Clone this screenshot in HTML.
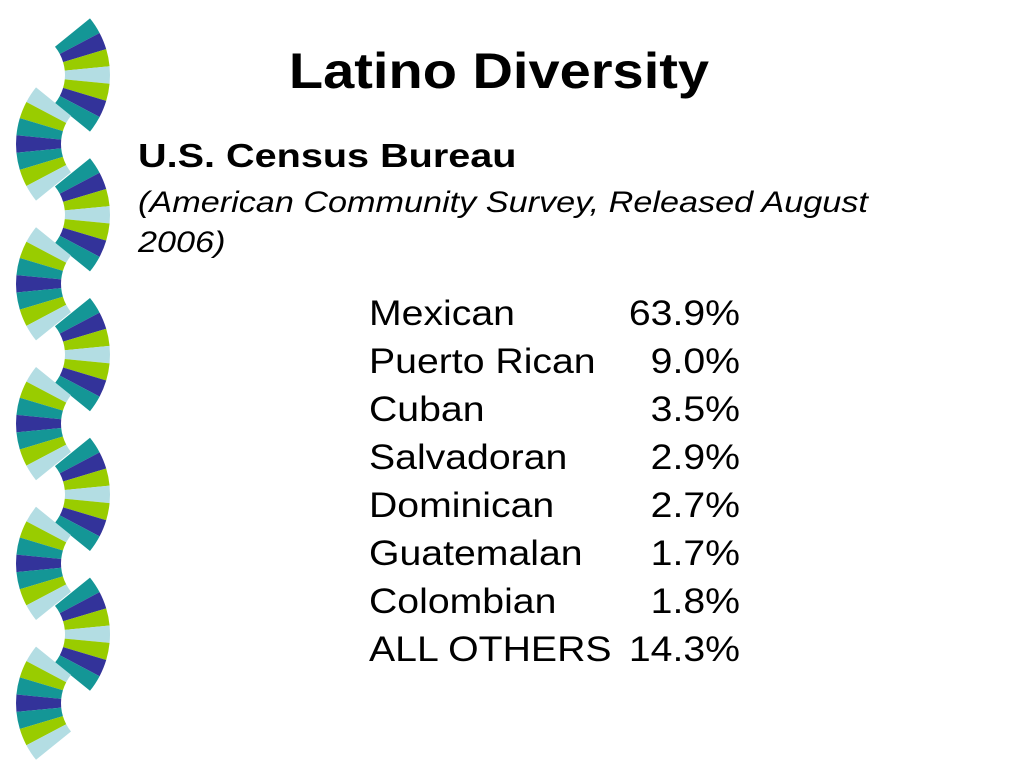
<!DOCTYPE html>
<html><head><meta charset="utf-8"><style>
body{margin:0;width:1024px;height:768px;background:#fff;overflow:hidden;position:relative;font-family:"Liberation Sans",Arial,sans-serif;}
.t{position:absolute;white-space:nowrap;color:#000}
</style></head><body>
<svg id="deco" width="130" height="768" style="position:absolute;left:0;top:0"></svg>
<div class="t" style="left:0;width:998px;text-align:center;top:42px;font-size:50px;font-weight:bold;transform:scaleX(1.12);transform-origin:499px 0">Latino Diversity</div>
<div class="t" style="left:138px;top:137px;font-size:33px;font-weight:bold;transform:scaleX(1.2);transform-origin:0 0">U.S. Census Bureau</div>
<div class="t" style="left:138px;top:183px;font-size:30px;font-style:italic;line-height:40px;transform:scaleX(1.14);transform-origin:0 0">(American Community Survey, Released August<br>2006)</div>
<div id="tbl"></div>
<script>
const labels=["Mexican","Puerto Rican","Cuban","Salvadoran","Dominican","Guatemalan","Colombian","ALL OTHERS"];
const values=["63.9%","9.0%","3.5%","2.9%","2.7%","1.7%","1.8%","14.3%"];
const tbl=document.getElementById('tbl');
labels.forEach((l,i)=>{
  const a=document.createElement('div');a.className='t';
  a.style.cssText=`left:369px;top:${294+i*48}px;font-size:35px;transform:scaleX(1.12);transform-origin:0 0`;a.textContent=l;
  
  
  tbl.appendChild(a);
  const b=document.createElement('div');b.className='t';
  b.style.cssText=`left:600px;width:140px;text-align:right;top:${294+i*48}px;font-size:35px;transform:scaleX(1.12);transform-origin:140px 0`;b.textContent=values[i];
  
  
  tbl.appendChild(b);
});
const svg=document.getElementById('deco');const NS='http://www.w3.org/2000/svg';
const rightCols=["#149696","#33339a","#99cc00","#b3dde3","#99cc00","#33339a","#149696"];
const leftCols=["#b3dde3","#99cc00","#149696","#33339a","#149696","#99cc00","#b3dde3"];
function fan(cx,cy,dir,cols){
  const R=90,r=45,th=0.68,n=cols.length;
  for(let i=0;i<n;i++){
    const a0=-th+2*th*i/n,a1=-th+2*th*(i+1)/n;
    const p=(rad,a)=>[cx+dir*rad*Math.cos(a),cy+rad*Math.sin(a)];
    const [x1,y1]=p(r,a0),[x2,y2]=p(R,a0),[x3,y3]=p(R,a1),[x4,y4]=p(r,a1);
    const s=dir>0?1:0;
    const path=document.createElementNS(NS,'path');
    path.setAttribute('d',`M${x1},${y1}L${x2},${y2}A${R},${R} 0 0 ${s} ${x3},${y3}L${x4},${y4}A${r},${r} 0 0 ${1-s} ${x1},${y1}Z`);
    path.setAttribute('fill',cols[i]);
    
    
    svg.appendChild(path);
  }
}
for(let k=0;k<5;k++){fan(20,75+k*139.8,1,rightCols);}
for(let k=0;k<5;k++){fan(106,144+k*139.8,-1,leftCols);}
</script>
</body></html>
